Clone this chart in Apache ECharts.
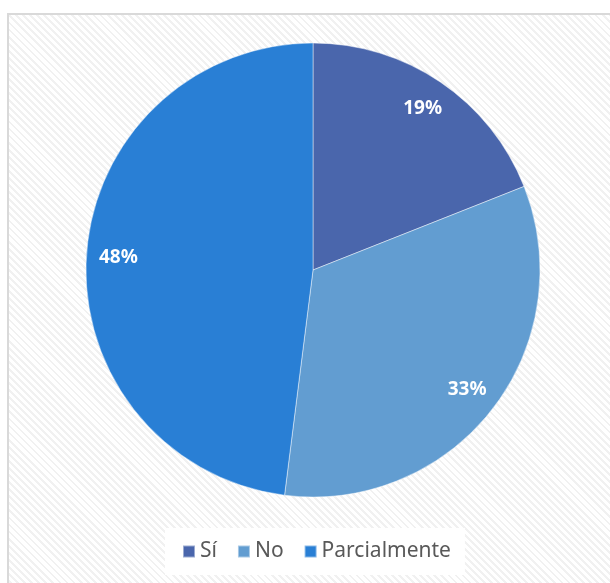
<!DOCTYPE html>
<html>
<head>
<meta charset="utf-8">
<script src="https://cdn.jsdelivr.net/npm/echarts@6/dist/echarts.min.js"></script>
<style>
  html, body { margin: 0; padding: 0; background: #fff; }
  #wrap { position: relative; width: 610px; height: 583px; overflow: hidden; background: #fff; }
  #frame {
    position: absolute; left: 7px; top: 13px; width: 620px; height: 600px;
    border: 2px solid #d9d9d9;
    background: repeating-linear-gradient(45deg, #ffffff 0px, #ffffff 3px, #f1f1f1 3px, #f1f1f1 5px);
  }
  #main { position: absolute; left: 0; top: 0; width: 610px; height: 583px; }
</style>
</head>
<body>
<div id="wrap">
  <div id="frame"></div>
  <div id="main"></div>
</div>
<script>
// datos del grafico
const categories = ['Sí', 'No', 'Parcialmente']
const values = [19, 33, 48]
const colors = ['#4A66AC', '#629DD1', '#297FD5']

const pieData = categories.map((name, i) => ({
  name: name,
  value: values[i],
  itemStyle: { color: colors[i] }
}))

const myChart = echarts.init(document.getElementById('main'), null, { renderer: 'canvas' })

const option = {
  backgroundColor: 'transparent',
  animation: false,
  legend: {
    top: 528,
    left: 165,
    backgroundColor: '#ffffff',
    padding: [13, 14, 13, 17],
    itemWidth: 12,
    itemHeight: 12,
    itemGap: 20,
    icon: 'rect',
    data: categories,
    textStyle: {
      fontFamily: 'Noto Sans',
      fontSize: 21,
      color: '#595959'
    }
  },
  series: [{
    type: 'pie',
    center: [313, 270],
    radius: [0, 227],
    startAngle: 90,
    clockwise: true,
    label: { show: false },
    labelLine: { show: false },
    itemStyle: { borderColor: 'rgba(255,255,255,0.45)', borderWidth: 1 },
    emphasis: { disabled: true },
    data: pieData
  }, {
    // capa transparente solo para colocar las etiquetas cerca del borde
    type: 'pie',
    center: [313, 270],
    radius: [157, 227],
    startAngle: 90,
    clockwise: true,
    silent: true,
    itemStyle: { color: 'transparent', borderWidth: 0 },
    label: {
      show: true,
      position: 'inside',
      formatter: p => Math.round(p.percent) + '%',
      color: '#ffffff',
      fontFamily: 'Noto Sans',
      fontWeight: 'bold',
      fontSize: 19
    },
    labelLine: { show: false },
    emphasis: { disabled: true },
    data: categories.map((name, i) => ({ name: name, value: values[i] }))
  }]
}

myChart.setOption(option)
</script>
</body>
</html>
